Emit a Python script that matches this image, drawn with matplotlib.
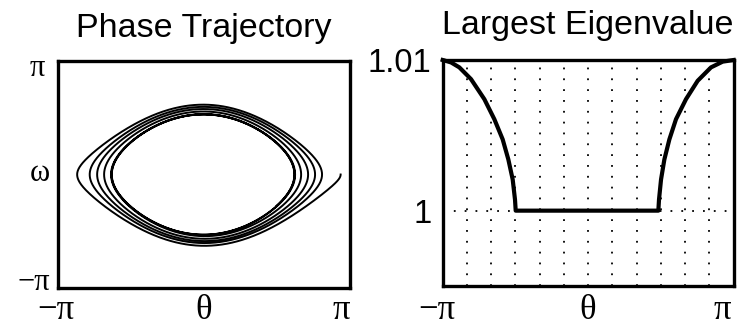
import numpy as np
import matplotlib.pyplot as plt
from matplotlib.transforms import ScaledTranslation

# phase trajectory: successive turning angles (theta where omega = 0)
turn_theta = [2.94, -2.73, 2.54, -2.46, 2.39, -2.30, 2.24, -2.15, 2.09,
              -2.00, 1.96, -1.99, 1.95, -1.985, 1.945]
end_theta = 1.56   # the trajectory stops here on the last lower half-loop

# largest eigenvalue vs theta
eig_theta = [-3.142, -2.962, -2.782, -2.530, -2.242, -2.026, -1.846, -1.724,
             -1.630, -1.580, -1.565, 1.515, 1.529, 1.573, 1.645, 1.753,
             1.896, 2.112, 2.364, 2.652, 2.904, 3.142]
eig_val = [1.0100, 1.00984, 1.00951, 1.00873, 1.00740, 1.00607, 1.00473, 1.00340,
           1.00207, 1.00073, 1.0000, 1.0000, 1.00073, 1.00207, 1.00340, 1.00473,
           1.00607, 1.00740, 1.00862, 1.00951, 1.00989, 1.0100]

SANS = 'Liberation Sans'
SERIF = 'Liberation Serif'
pi = np.pi


def half_loop(ta, tb, stop=None):
    # pendulum-like arc between two turning angles, energy drifting from one to the other
    s = np.linspace(0, 1, 400)
    th = ta + (tb - ta) * (1 - np.cos(np.pi * s)) / 2
    ea, eb = -np.cos(ta), -np.cos(tb)
    e = ea + (eb - ea) * (th - ta) / (tb - ta)
    w = np.sqrt(np.clip(2 * (e + np.cos(th)), 0, None)) * np.sign(tb - ta)
    if stop is not None:
        keep = th >= stop
        th, w = th[keep], w[keep]
    return th, w


def nudge(label, dx, dy):
    # shift a tick label by dx, dy pixels (dpi 100), dy positive = down
    label.set_transform(label.get_transform() + ScaledTranslation(dx / 100, -dy / 100, fig.dpi_scale_trans))


fig = plt.figure(figsize=(7.42, 3.32), dpi=100)
ax1 = fig.add_axes([0.0782, 0.1325, 0.3935, 0.6837])
ax2 = fig.add_axes([0.5966, 0.1386, 0.3922, 0.6807])

# left: phase trajectory
ths, ws = [], []
for a, b in zip(turn_theta[:-1], turn_theta[1:]):
    t, w = half_loop(a, b)
    ths.append(t)
    ws.append(w)
t, w = half_loop(turn_theta[-1], -turn_theta[-1], stop=end_theta)
ths.append(t)
ws.append(w)
ax1.plot(np.concatenate(ths), np.concatenate(ws), color='k', lw=1.4)
ax1.set_xlim(-pi, pi)
ax1.set_ylim(-pi, pi)
ax1.set_xticks([-pi, 0, pi])
ax1.set_xticklabels(['\u2212\u03c0', '\u03b8', '\u03c0'], fontfamily=SERIF, fontsize=25)
ax1.set_yticks([-pi, 0, pi])
ax1.set_yticklabels(['\u2212\u03c0', '\u03c9', '\u03c0'], fontfamily=SERIF, fontsize=22)
ax1.tick_params(axis='x', length=0, pad=4.5)
ax1.tick_params(axis='y', length=0, pad=6)
ax1.set_title('Phase Trajectory', fontfamily=SANS, fontsize=24.5, pad=17)

# right: largest eigenvalue
ax2.plot(eig_theta, eig_val, color='k', lw=3, clip_on=False, zorder=3)
ax2.set_xlim(-pi, pi)
ax2.set_ylim(0.995, 1.01)
xt = np.arange(-6, 7) * pi / 6
ax2.set_xticks(xt)
ax2.set_xticklabels(['\u2212\u03c0'] + [''] * 5 + ['\u03b8'] + [''] * 5 + ['\u03c0'],
                    fontfamily=SERIF, fontsize=25)
ax2.set_yticks([1.0, 1.01])
ax2.set_yticklabels(['1', '1.01'], fontfamily=SANS, fontsize=23.5)
ax2.tick_params(axis='x', length=0, pad=6)
ax2.tick_params(axis='y', length=0, pad=8)
ax2.grid(True, color='k', linestyle=(0, (1, 5)), linewidth=1.3)
ax2.set_title('Largest Eigenvalue', fontfamily=SANS, fontsize=24.5, pad=18.7)

for ax in (ax1, ax2):
    for sp in ax.spines.values():
        sp.set_linewidth(2.4)

xl1 = ax1.get_xticklabels()
nudge(xl1[0], -2, 0)
nudge(xl1[2], -9, 0)
yl1 = ax1.get_yticklabels()
nudge(yl1[0], 0, -9)
nudge(yl1[1], 0, -4.5)
nudge(yl1[2], -5, 4)
xl2 = ax2.get_xticklabels()
nudge(xl2[0], -6, 0)
nudge(xl2[-1], -11, 0)

fig.savefig('out.png', dpi=100)
